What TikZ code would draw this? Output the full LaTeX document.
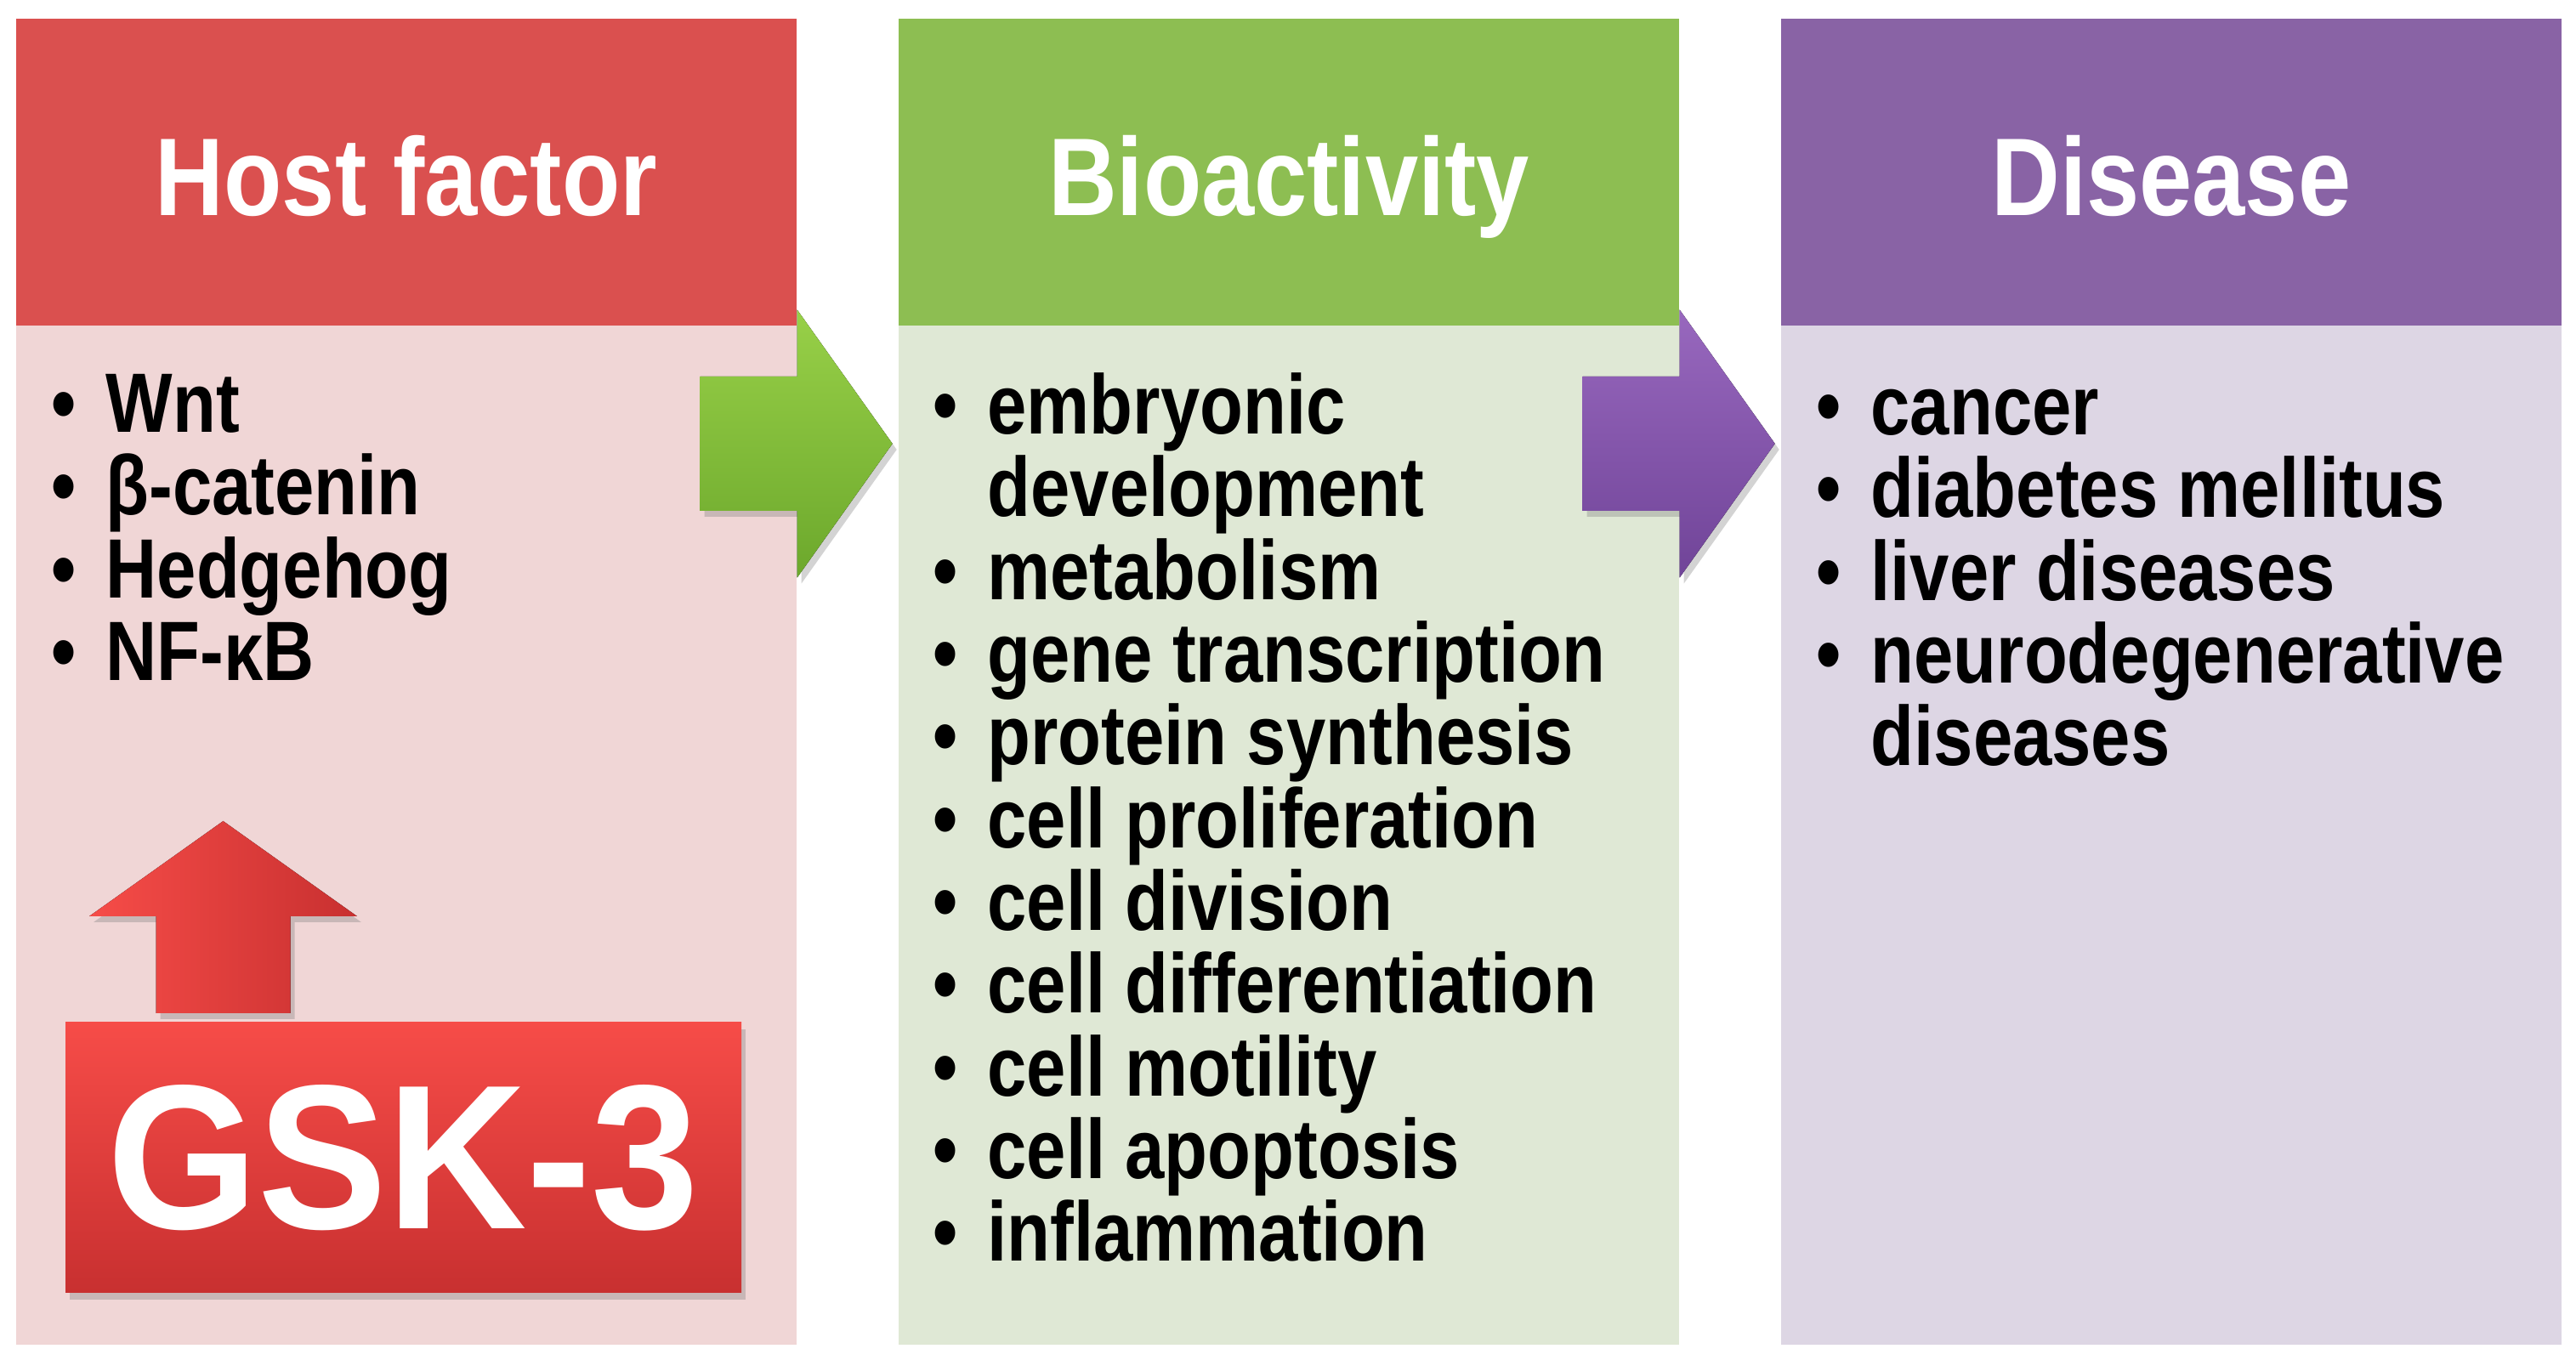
\documentclass[tikz,border=0pt]{standalone}
\usepackage{fontspec}
\setmainfont{Liberation Sans}
\newfontfamily\headfont[FakeStretch=0.86]{Liberation Sans}
\newfontfamily\listfont[FakeStretch=0.84]{Liberation Sans}
\newfontfamily\gskfont[FakeStretch=0.94]{Liberation Sans}
\usepackage{tikz}
\usetikzlibrary{positioning,shadows}
\setlength{\lineskiplimit}{-20pt}

\definecolor{hosthead}{RGB}{218,80,79}
\definecolor{hostbg}{RGB}{240,214,214}
\definecolor{biohead}{RGB}{141,190,82}
\definecolor{biobg}{RGB}{223,232,213}
\definecolor{dishead}{RGB}{137,99,165}
\definecolor{disbg}{RGB}{221,214,228}
\definecolor{gtop}{RGB}{152,208,72}
\definecolor{gbot}{RGB}{108,168,44}
\definecolor{ptop}{RGB}{152,104,190}
\definecolor{pbot}{RGB}{112,68,152}
\definecolor{rtop}{RGB}{246,76,72}
\definecolor{rbot}{RGB}{200,48,48}

\newcommand{\bul}{\llap{•\hspace{0.355cm}}}
\newcommand{\fatarrow}[3]{%
	\fill[#3, shift={(#1)}, rotate=#2] (-1.14,-0.79) -- (-1.14,0.79) -- (0,0.79)
	-- (0,1.575) -- (1.12,0) -- (0,-1.575) -- (0,-0.79) -- cycle;}

\begin{document}
\begin{tikzpicture}[-,auto,node distance=10.38cm,
			thin,head box/.style={rectangle,minimum width=9.18cm,
				minimum height=3.61cm,inner sep=0pt},
			body box/.style={rectangle,minimum width=9.18cm,
				minimum height=11.99cm,inner sep=0pt},
			title/.style={anchor=base,text=white,
				font=\headfont\bfseries\fontsize{37}{40}\selectfont},
			list/.style={anchor=base west,align=left,inner sep=0pt,
				font=\listfont\bfseries\fontsize{28.2}{27.7}\selectfont},
			shade arrow/.style={drop shadow={shadow xshift=0.5mm,
				shadow yshift=-0.7mm,opacity=0.35}}]
			
			\useasboundingbox (0,0) rectangle (30.3,16);
			
			\node[head box, fill=hosthead] (host) at (4.78,13.975) {};
			\node[body box, fill=hostbg] (hostbody) [below of=host, node distance=7.8cm] {};
			\node[head box, fill=biohead] (bio) [right of=host] {};
			\node[body box, fill=biobg] (biobody) [below of=bio, node distance=7.8cm] {};
			\node[head box, fill=dishead] (dis) [right of=bio] {};
			\node[body box, fill=disbg] (disbody) [below of=dis, node distance=7.8cm] {};
			
			\node[title] (hosttitle) at ([yshift=-5.1mm]host.center) {Host factor};
			\node[title] (biotitle) at ([yshift=-5.1mm]bio.center) {Bioactivity};
			\node[title] (distitle) at ([yshift=-5.1mm]dis.center) {Disease};
			
			% lists: the base anchor is the baseline of the last line
			\node[list] (hostlist) at (1.24,7.995)
			{\bul Wnt\\\bul β-catenin\\\bul Hedgehog\\\bul NF-κB};
			\node[list] (biolist) at (11.61,1.16)
			{\bul embryonic\\development\\\bul metabolism\\\bul gene transcription\\
				\bul protein synthesis\\\bul cell proliferation\\\bul cell division\\
				\bul cell differentiation\\\bul cell motility\\\bul cell apoptosis\\
				\bul inflammation};
			\node[list] (dislist) at (22.00,6.99)
			{\bul cancer\\\bul diabetes mellitus\\\bul liver diseases\\
				\bul neurodegenerative\\diseases};
			
			\coordinate (garrow) at (hostbody.east |- 0,10.78);
			\coordinate (parrow) at (biobody.east |- 0,10.78);
			\coordinate (rarrow) at (2.625,5.22);
			\fatarrow{garrow}{0}{shade arrow, top color=gtop, bottom color=gbot}
			\fatarrow{parrow}{0}{shade arrow, top color=ptop, bottom color=pbot}
			\fatarrow{rarrow}{90}{shade arrow, left color=rtop, right color=rbot}
			
			\node[rectangle, minimum width=7.95cm, minimum height=3.18cm, inner sep=0pt,
				top color=rtop, bottom color=rbot, text=white,
				drop shadow={shadow xshift=0.5mm,shadow yshift=-0.8mm,opacity=0.35},
				font=\gskfont\bfseries\fontsize{68.9}{70}\selectfont]
			(gsk) at (4.745,2.38) {GSK-3};
		\end{tikzpicture}
\end{document}
